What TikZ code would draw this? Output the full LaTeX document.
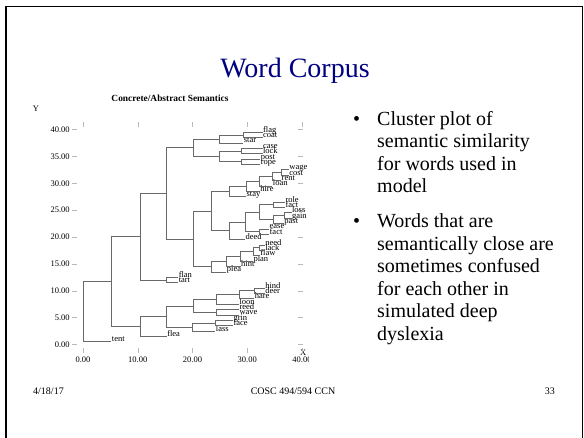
\documentclass[tikz,border=0pt]{standalone}
\usepackage{fontspec}
\setmainfont{Liberation Serif}
\usetikzlibrary{positioning}
\definecolor{titleblue}{RGB}{0,0,128}
\definecolor{branchgray}{RGB}{105,105,105}
\definecolor{tickgray}{RGB}{185,185,185}
\begin{document}
\begin{tikzpicture}[x=1pt, y=-1pt,
  branch/.style={draw=branchgray, line width=0.7pt},
  tick/.style={draw=tickgray, line width=0.5pt},
  leaf/.style={anchor=base west, inner sep=0.3pt, font=\fontsize{8.5}{9}\selectfont},
  ticklabel/.style={inner sep=0pt, font=\fontsize{8.5}{9}\selectfont},
  bullettext/.style={anchor=base west, align=left, inner sep=0pt, font=\fontsize{20}{22.5}\selectfont},
  footer/.style={anchor=base, inner sep=0pt, font=\fontsize{10}{12}\selectfont}]
\useasboundingbox (0,0) rectangle (584,437);
\draw[line width=1.6pt] (6,6.5) rectangle (582.6,450);
% title and text (a multi-line node sits on its last line)
\node[anchor=base, inner sep=0pt, text=titleblue, font=\fontsize{28}{30}\selectfont] (title) at (295,77) {Word Corpus};
\node[anchor=base, inner sep=0pt, font=\bfseries\fontsize{9.4}{10}\selectfont] (subtitle) at (170,101) {Concrete/Abstract Semantics};
\node[bullettext] (dot1) at (353,125) {\textbullet};
\node[bullettext] (item1) at (377,192.5) {Cluster plot of\\semantic similarity\\for words used in\\model};
\node[bullettext] (dot2) at (353,227.5) {\textbullet};
\node[bullettext] (item2) at (377,340) {Words that are\\semantically close are\\sometimes confused\\for each other in\\simulated deep\\dyslexia};
\node[footer, anchor=base west] (date) at (33,394) {4/18/17};
\node[footer] (course) at (293,394) {COSC 494/594 CCN};
\node[footer, anchor=base east] (page) at (555,394) {33};
% cluster plot
\begin{scope}[shift={(83,344.5)}, x=5.475pt, y=5.375pt]
\node[ticklabel] (ylabel) at (-8.6,43.8) {Y};
\node[ticklabel] (xlabel) at (40.2,-1.6) {X};
\foreach \v in {0,5,...,40} {
  \draw[tick] (-2.0,\v) -- (-1.1,\v);
  \draw[tick] (39.3,\v) -- (40.1,\v);
  \node[ticklabel, anchor=east] (ylab\v) at (-2.4,\v) {\v.00};
}
\foreach \u in {0,10,...,40} {
  \draw[tick] (\u,40.5) -- (\u,41.4);
  \draw[tick] (\u,-0.7) -- (\u,-1.5);
}
\foreach \u in {0,10,...,30}
  \node[ticklabel] (xlab\u) at (\u,-2.85) {\u.00};
\begin{scope}
\clip (-20,-5) rectangle (41.2,-1.9);
\node[ticklabel] (xlab40) at (40,-2.85) {40.00};
\end{scope}
% leaves
\node[leaf] (flag) at (32.8,39.5) {flag};
\node[leaf] (coat) at (32.8,38.5) {coat};
\node[leaf] (star) at (29.3,37.5) {star};
\node[leaf] (case) at (32.8,36.5) {case};
\node[leaf] (lock) at (32.8,35.5) {lock};
\node[leaf] (post) at (32.4,34.5) {post};
\node[leaf] (rope) at (32.4,33.5) {rope};
\node[leaf] (wage) at (37.6,32.5) {wage};
\node[leaf] (cost) at (37.6,31.5) {cost};
\node[leaf] (rent) at (36.2,30.5) {rent};
\node[leaf] (loan) at (34.6,29.5) {loan};
\node[leaf] (hire) at (32.3,28.5) {hire};
\node[leaf] (stay) at (29.8,27.5) {stay};
\node[leaf] (role) at (36.9,26.5) {role};
\node[leaf] (fact1) at (36.9,25.5) {fact};
\node[leaf] (loss) at (38.1,24.5) {loss};
\node[leaf] (gain) at (38.1,23.5) {gain};
\node[leaf] (past) at (36.7,22.5) {past};
\node[leaf] (ease) at (34.0,21.5) {ease};
\node[leaf] (fact2) at (34.0,20.5) {fact};
\node[leaf] (deed) at (29.6,19.5) {deed};
\node[leaf] (need) at (33.2,18.5) {need};
\node[leaf] (lack) at (33.2,17.5) {lack};
\node[leaf] (flaw) at (32.3,16.5) {flaw};
\node[leaf] (plan) at (31.05,15.5) {plan};
\node[leaf] (hint) at (28.8,14.5) {hint};
\node[leaf] (plea) at (26.2,13.5) {plea};
\node[leaf] (flan) at (17.4,12.5) {flan};
\node[leaf] (tart) at (17.4,11.5) {tart};
\node[leaf] (hind) at (33.2,10.5) {hind};
\node[leaf] (deer) at (33.2,9.5) {deer};
\node[leaf] (hare) at (31.3,8.5) {hare};
\node[leaf] (loon) at (28.5,7.5) {loon};
\node[leaf] (reed) at (28.5,6.5) {reed};
\node[leaf] (wave) at (28.5,5.5) {wave};
\node[leaf] (grin) at (27.4,4.5) {grin};
\node[leaf] (face) at (27.4,3.5) {face};
\node[leaf] (lass) at (24.2,2.5) {lass};
\node[leaf] (flea) at (15.3,1.5) {flea};
\node[leaf] (tent) at (5.2,0.5) {tent};
% joins
\coordinate (root) at (0,6.1);
\coordinate (A) at (5.2,11.71);
\coordinate (B) at (10.5,20.07);
\coordinate (FT) at (15.3,12.0);
\coordinate (D) at (15.3,28.13);
\coordinate (E) at (20.1,36.63);
\coordinate (E1) at (24.9,38.25);
\coordinate (FC) at (29.3,39.0);
\coordinate (E2) at (24.9,35.0);
\coordinate (CL) at (29.0,36.0);
\coordinate (PR) at (29.0,34.0);
\coordinate (F) at (20.1,19.64);
\coordinate (G) at (23.5,24.81);
\coordinate (G1) at (26.7,28.47);
\coordinate (G1a) at (29.8,29.44);
\coordinate (G1b) at (32.3,30.38);
\coordinate (G1c) at (34.6,31.25);
\coordinate (WC) at (36.2,32.0);
\coordinate (G2) at (26.7,21.16);
\coordinate (G2a) at (29.6,22.81);
\coordinate (G2b) at (32.2,24.63);
\coordinate (RF) at (34.8,26.0);
\coordinate (LGP) at (34.8,23.25);
\coordinate (LG) at (36.7,24.0);
\coordinate (EF) at (32.2,21.0);
\coordinate (H) at (23.5,14.47);
\coordinate (H1) at (26.2,15.44);
\coordinate (H2) at (28.8,16.38);
\coordinate (H3) at (31.05,17.25);
\coordinate (NL) at (32.3,18.0);
\coordinate (C) at (10.5,3.36);
\coordinate (C3) at (15.3,5.22);
\coordinate (C2) at (20.1,7.19);
\coordinate (C1) at (24.4,8.38);
\coordinate (HDH) at (28.5,9.25);
\coordinate (HD) at (31.3,10.0);
\coordinate (RW) at (24.4,6.0);
\coordinate (C4) at (20.0,3.25);
\coordinate (GF) at (24.2,4.0);
% branches
\foreach \p/\c in {root/A, A/B, A/C, B/D, B/FT, D/E, D/F, E/E1, E/E2, E1/FC, E2/CL, E2/PR,
  F/G, F/H, G/G1, G/G2, G1/G1a, G1a/G1b, G1b/G1c, G1c/WC, G2/G2a, G2a/G2b, G2a/EF,
  G2b/RF, G2b/LGP, LGP/LG, H/H1, H1/H2, H2/H3, H3/NL, C/C3, C3/C2, C3/C4, C2/C1,
  C2/RW, C1/HDH, HDH/HD, C4/GF}
  \draw[branch] (\p) |- (\c);
\foreach \p/\c in {root/tent, FT/flan, FT/tart, E1/star, FC/flag, FC/coat, CL/case, CL/lock,
  PR/post, PR/rope, G1/stay, G1a/hire, G1b/loan, G1c/rent, WC/wage, WC/cost, G2/deed,
  RF/role, RF/fact1, LGP/past, LG/loss, LG/gain, EF/ease, EF/fact2, H/plea, H1/hint,
  H2/plan, H3/flaw, NL/need, NL/lack, C/flea, C1/loon, HDH/hare, HD/hind, HD/deer,
  RW/reed, RW/wave, C4/lass, GF/grin, GF/face}
  \draw[branch] (\p) |- (\c.base west);
\end{scope}
\end{tikzpicture}
\end{document}
